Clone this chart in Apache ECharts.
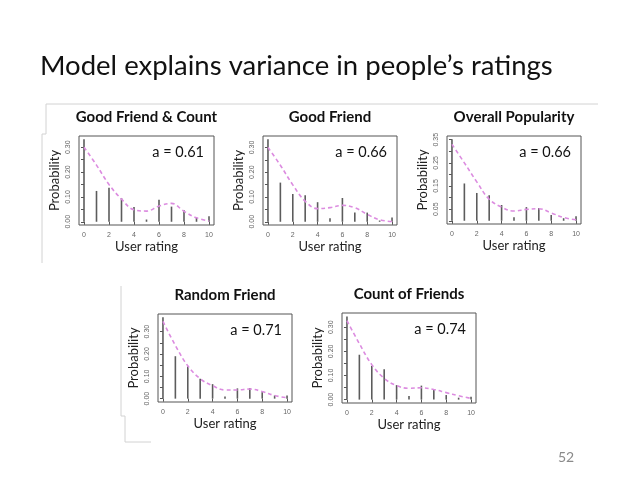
<!DOCTYPE html>
<html>
<head>
<meta charset="utf-8" />
<title>Model explains variance in people's ratings</title>
<script src="https://cdnjs.cloudflare.com/ajax/libs/echarts/6.0.0/echarts.min.js"></script>
<style>
  html, body { margin: 0; padding: 0; background: #fff; }
  #main { width: 638px; height: 479px; }
</style>
</head>
<body>
<div id="main"></div>
<script>
// ---- data ----
var ratings = [0, 1, 2, 3, 4, 5, 6, 7, 8, 9, 10];

var goodFriendCountBars = [0.332, 0.124, 0.137, 0.095, 0.059, 0.009, 0.089, 0.061, 0.046, 0.016, 0.022];
var goodFriendCountFit  = [0.300, 0.228, 0.150, 0.091, 0.048, 0.043, 0.063, 0.074, 0.042, 0.016, 0.003];

var goodFriendBars = [0.333, 0.158, 0.112, 0.107, 0.079, 0.014, 0.096, 0.037, 0.037, 0.005, 0.017];
var goodFriendFit  = [0.300, 0.228, 0.149, 0.083, 0.053, 0.057, 0.066, 0.057, 0.030, 0.008, 0.001];

var popularityBars = [0.352, 0.161, 0.120, 0.110, 0.068, 0.015, 0.059, 0.055, 0.025, 0.011, 0.020];
var popularityFit  = [0.330, 0.250, 0.168, 0.093, 0.059, 0.042, 0.049, 0.052, 0.034, 0.014, 0.004];

var randomFriendBars = [0.364, 0.190, 0.144, 0.089, 0.065, 0.010, 0.046, 0.048, 0.029, 0.014, 0.014];
var randomFriendFit  = [0.346, 0.238, 0.147, 0.089, 0.058, 0.039, 0.039, 0.043, 0.032, 0.014, 0.004];

var friendCountBars = [0.345, 0.186, 0.140, 0.126, 0.060, 0.015, 0.058, 0.044, 0.019, 0.008, 0.012];
var friendCountFit  = [0.327, 0.232, 0.145, 0.088, 0.058, 0.047, 0.049, 0.042, 0.029, 0.016, 0.005];

var panelTitles = ['Good Friend & Count', 'Good Friend', 'Overall Popularity', 'Random Friend', 'Count of Friends'];
var panelFits = ['a = 0.61', 'a = 0.66', 'a = 0.66', 'a = 0.71', 'a = 0.74'];
var panelBars = [goodFriendCountBars, goodFriendBars, popularityBars, randomFriendBars, friendCountBars];
var panelCurves = [goodFriendCountFit, goodFriendFit, popularityFit, randomFriendFit, friendCountFit];

var xTicks = [0, 2, 4, 6, 8, 10];
var yTicksA = [0, 0.05, 0.10, 0.15, 0.20, 0.25, 0.30];
var yLabelsA = [0, 0.10, 0.20, 0.30];
var yTicksB = [0, 0.05, 0.10, 0.15, 0.20, 0.25, 0.30, 0.35];
var yLabelsB = [0.05, 0.15, 0.25, 0.35];
var panelYTicks = [yTicksA, yTicksA, yTicksB, yTicksA, yTicksA];
var panelYLabels = [yLabelsA, yLabelsA, yLabelsB, yLabelsA, yLabelsA];

// ---- layout: plot boxes (R style, 4% padding on each axis) ----
var boxes = [
  { left: 79,  top: 136, width: 135, height: 89, yMin: -0.013, yMax: 0.345 },
  { left: 263, top: 136, width: 134, height: 89, yMin: -0.013, yMax: 0.346 },
  { left: 447, top: 136, width: 134, height: 88, yMin: -0.014, yMax: 0.366 },
  { left: 158, top: 314, width: 134, height: 88, yMin: -0.015, yMax: 0.379 },
  { left: 342, top: 313, width: 134, height: 90, yMin: -0.014, yMax: 0.359 }
];

var axisGray = '#555';
var curveColor = '#dc8ce0';
var labelFont = 'Lato';

var grids = [], xAxes = [], yAxes = [], series = [], titles = [], graphics = [];

boxes.forEach(function (b, i) {
  grids.push({
    left: b.left, top: b.top, width: b.width, height: b.height,
    show: true, borderColor: axisGray, borderWidth: 1, backgroundColor: 'transparent'
  });
  xAxes.push({
    gridIndex: i, type: 'value', min: -0.4, max: 10.4,
    axisLine: { show: false },
    splitLine: { show: false },
    axisTick: { show: true, length: 3, customValues: xTicks, lineStyle: { color: axisGray } },
    axisLabel: { customValues: xTicks, fontSize: 7, color: '#666', margin: 7, fontFamily: 'Liberation Sans' },
    name: 'User rating', nameLocation: 'middle', nameGap: 15,
    nameTextStyle: { fontSize: 13, color: '#222', fontFamily: labelFont }
  });
  yAxes.push({
    gridIndex: i, type: 'value', min: b.yMin, max: b.yMax,
    axisLine: { show: false },
    splitLine: { show: false },
    axisTick: { show: true, length: 3, customValues: panelYTicks[i], lineStyle: { color: axisGray } },
    axisLabel: {
      customValues: panelYLabels[i], fontSize: 7, color: '#666', margin: 7, rotate: 90,
      fontFamily: 'Liberation Sans',
      formatter: function (v) { return v.toFixed(2); }
    },
    name: 'Probability', nameLocation: 'middle', nameGap: 18, nameRotate: 90,
    nameTextStyle: { fontSize: 13, color: '#222', fontFamily: labelFont }
  });
  series.push({
    type: 'bar', xAxisIndex: i, yAxisIndex: i, barWidth: 1.6, silent: true,
    itemStyle: { color: '#5c5c5c' },
    data: ratings.map(function (r, k) { return [r, panelBars[i][k]]; })
  });
  series.push({
    type: 'line', xAxisIndex: i, yAxisIndex: i, smooth: 0.4, showSymbol: false, silent: true,
    lineStyle: { color: curveColor, width: 1.6, type: [4, 3] },
    data: ratings.map(function (r, k) { return [r, panelCurves[i][k]]; })
  });
  titles.push({
    text: panelTitles[i], left: b.left + b.width / 2, top: b.top - 26, textAlign: 'center', padding: 0,
    textStyle: { fontSize: 15, fontWeight: 'bold', color: '#111', fontFamily: labelFont }
  });
  graphics.push({
    type: 'text', x: b.left + b.width - 10, y: b.top + 16,
    style: { text: panelFits[i], fill: '#111', fontSize: 14.5, fontFamily: labelFont, align: 'right', verticalAlign: 'middle' }
  });
});

titles.push({
  text: 'Model explains variance in people\u2019s ratings', left: 40, top: 52, padding: 0,
  textStyle: { fontSize: 27.5, fontWeight: 'normal', color: '#111', fontFamily: labelFont }
});

// slide frame remnants and page number
var frameStyle = { stroke: '#d2d2d2', lineWidth: 1, fill: null };
graphics.push(
  { type: 'polyline', shape: { points: [[598, 104], [46, 104], [46, 134], [42, 134], [42, 263]] }, style: frameStyle },
  { type: 'polyline', shape: { points: [[121, 286], [121, 416], [125, 416], [125, 442], [151, 442]] }, style: frameStyle },
  { type: 'text', x: 566, y: 457, style: { text: '52', fill: '#8a8a8a', fontSize: 14, fontFamily: labelFont, align: 'center', verticalAlign: 'middle' } }
);

var chart = echarts.init(document.getElementById('main'));
chart.setOption({
  animation: false,
  backgroundColor: '#fff',
  title: titles,
  grid: grids,
  xAxis: xAxes,
  yAxis: yAxes,
  series: series,
  graphic: graphics
});
</script>
</body>
</html>
